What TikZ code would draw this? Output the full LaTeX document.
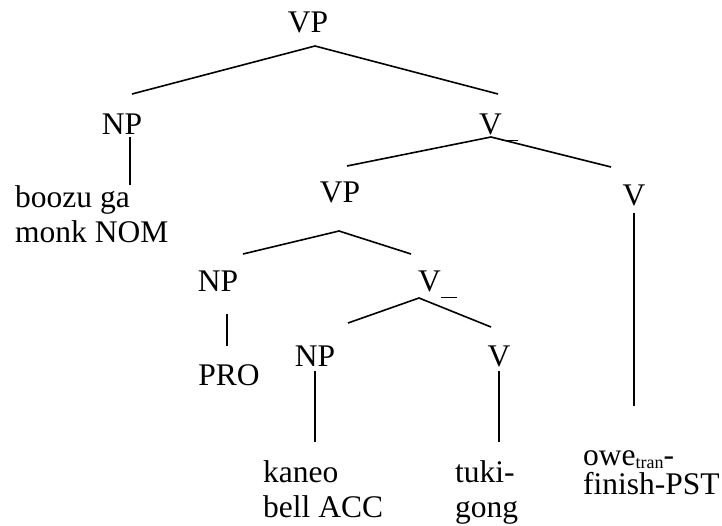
\documentclass[tikz,border=0pt]{standalone}
\usepackage{fontspec}
\setmainfont{Liberation Serif}
\usepackage{tikz}
\usetikzlibrary{positioning}
\tikzstyle{cat} = [inner sep=0pt, anchor=base]
\tikzstyle{word} = [inner sep=0pt, anchor=base west, align=left]
\tikzstyle{branch} = [line width=1.6pt]
\newcommand{\vbar}{V\rule[-7pt]{16pt}{1.2pt}}

\begin{document}
\begin{tikzpicture}[x=1pt, y=-1pt, font=\fontsize{31.5}{35}\selectfont]
\useasboundingbox (0,0) rectangle (722,525);

% category labels
\node[cat] (vp0) at (308,32) {VP};
\node[cat] (np1) at (122,134) {NP};
\node[cat, anchor=base west] (vb1) at (479,134) {\vbar};
\node[cat] (vp1) at (340,202) {VP};
\node[cat] (v1) at (634,205) {V};
\node[cat] (np2) at (218,291) {NP};
\node[cat, anchor=base west] (vb2) at (418,291) {\vbar};
\node[cat] (pro) at (229,385) {PRO};
\node[cat] (np3) at (315,366) {NP};
\node[cat] (v2) at (499,366) {V};

% words at the leaves (base = last line)
\node[word] (boozu) at (15,242) {boozu ga\\monk NOM};
\node[word] (kaneo) at (263,517) {kaneo\\bell ACC};
\node[word] (tuki) at (455,517) {tuki-\\gong};
\node[word, font=\fontsize{31.5}{29}\selectfont] (owe) at (583,494) {owe{\fontsize{18}{18}\selectfont\raisebox{-3pt}{tran}}-\\finish-PST};

% branch points
\coordinate (vp0-a) at (315,46);
\coordinate (np1-t) at (132,94);
\coordinate (vb1-t) at (498,94);
\coordinate (np1-b) at (130,137);
\coordinate (boozu-t) at (130,185);
\coordinate (vb1-a) at (491,137);
\coordinate (vp1-t) at (347,166);
\coordinate (v1-t) at (611,167);
\coordinate (v1-b) at (634,213);
\coordinate (owe-t) at (634,406);
\coordinate (vp1-a) at (339,231);
\coordinate (np2-t) at (243,254);
\coordinate (vb2-t) at (411,254);
\coordinate (np2-b) at (227,314);
\coordinate (pro-t) at (227,346);
\coordinate (vb2-a) at (419,298);
\coordinate (np3-t) at (348,323);
\coordinate (v2-t) at (491,327);
\coordinate (np3-b) at (315,371);
\coordinate (kaneo-t) at (315,442);
\coordinate (v2-b) at (499,371);
\coordinate (tuki-t) at (499,442);

% branches
\draw[branch] (np1-t) -- (vp0-a) -- (vb1-t);
\draw[branch] (np1-b) -- (boozu-t);
\draw[branch] (vp1-t) -- (vb1-a) -- (v1-t);
\draw[branch] (v1-b) -- (owe-t);
\draw[branch] (np2-t) -- (vp1-a) -- (vb2-t);
\draw[branch] (np2-b) -- (pro-t);
\draw[branch] (np3-t) -- (vb2-a) -- (v2-t);
\draw[branch] (np3-b) -- (kaneo-t);
\draw[branch] (v2-b) -- (tuki-t);

\end{tikzpicture}
\end{document}
